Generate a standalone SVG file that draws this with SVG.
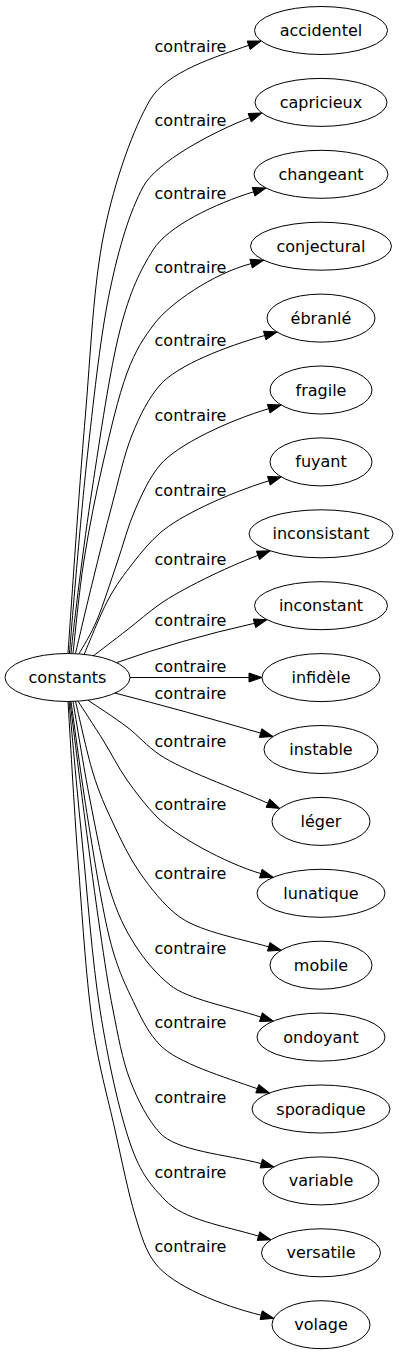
<svg xmlns="http://www.w3.org/2000/svg" width="403" height="1355" viewBox="0 0 403 1355">
<style>
.n ellipse{fill:none;stroke:#000;stroke-width:1}
text{font-family:"DejaVu Sans",Verdana,sans-serif;font-size:16px;fill:#000;text-anchor:middle}
.e path{fill:none;stroke:#000;stroke-width:1}
.e polygon{fill:#000;stroke:#000;stroke-width:1}
</style>
<rect width="403" height="1355" fill="#fff"/>
<g id="edges" class="e">
<path d="M68,653 C70.8,614.2 79,490 85,420 C91,350 93.2,286.3 104,233 C114.8,179.7 133.5,128.3 150,100 C166.5,71.7 215.7,56.9 248.7,45.3"/>
<polygon points="261,41 250.2,49.55 247.2,41.05"/>
<text x="190.5" y="52">contraire</text>
<path d="M69.5,653 C72.2,619.2 81.2,510.5 88,450 C94.8,389.5 100.8,333.8 110,290 C119.2,246.2 129.7,212 143,187 C156.3,162 212.4,132.2 249.7,117.7"/>
<polygon points="261.8,113 251.3,121.9 248.1,113.5"/>
<text x="190.5" y="125.5">contraire</text>
<path d="M71,653 C73.7,625.8 83.7,543.8 92,490 C100.3,436.2 109.8,370 120,330 C130.2,290 140.8,269.5 153,250 C168,226 215.4,203.6 253.6,191.8"/>
<polygon points="266,188 254.9,196.1 252.3,187.5"/>
<text x="190.5" y="199">contraire</text>
<path d="M73,653.2 C74.8,637.7 79,591.7 84,560 C89,528.3 95.8,494.2 103,463 C110.2,431.8 118.3,396.3 127,373 C135.7,349.7 144,337.3 155,323 C170,303.5 212.5,273.9 251.1,263.6"/>
<polygon points="263.7,260.2 252.3,268 249.9,259.3"/>
<text x="190.5" y="272.5">contraire</text>
<path d="M75.5,653.4 C78.4,641.2 86.9,604.7 93,580 C99.1,555.3 105.5,529.2 112,505 C118.5,480.8 124,455 132,435 C140,415 148.7,398 160,385 C177,365.4 226.2,346.3 264.7,335.5"/>
<polygon points="277.2,332 265.9,339.8 263.5,331.2"/>
<text x="190.5" y="346">contraire</text>
<path d="M79,653.8 C82,648.2 90.7,635.1 97,620 C103.3,604.9 110.7,581.3 117,563 C123.3,544.7 127.8,526.3 135,510 C142.2,493.7 149.2,478 160,465 C177,444.5 230.3,420 268.7,408.7"/>
<polygon points="281.2,405 270,413 267.4,404.4"/>
<text x="190.5" y="420.5">contraire</text>
<path d="M84,654.7 C88,645.6 99.8,615.3 108,600 C116.2,584.7 124.3,574.2 133,563 C141.7,551.8 150,541.7 160,533 C180,515.6 225.9,494.3 268.8,480.8"/>
<polygon points="281.2,476.9 270.2,485.1 267.5,476.5"/>
<text x="190.5" y="495.5">contraire</text>
<path d="M93,656.1 C98.7,651.8 115.8,638.7 127,630 C138.2,621.3 149,611.7 160,604 C180,590 225.2,567.7 258,555.4"/>
<polygon points="270.2,550.8 259.6,559.6 256.4,551.2"/>
<text x="190.5" y="565">contraire</text>
<path d="M117,662.5 Q180,640 254.5,623.3"/>
<polygon points="267,619.7 255.7,627.6 253.3,619"/>
<text x="190.5" y="626">contraire</text>
<path d="M130,677.5 L249,677.5"/>
<polygon points="262,677.5 249,682 249,673"/>
<text x="190.5" y="672">contraire</text>
<path d="M115,693.1 Q185,711 260.6,733.1"/>
<polygon points="273.1,736.5 259.4,737.4 261.8,728.8"/>
<text x="190.5" y="699">contraire</text>
<path d="M88,700.2 C94.5,704.7 115,717.9 127,727 C139,736.1 146.2,745.7 160,755 C182,769.8 233.1,787.9 267.9,803.2"/>
<polygon points="279.8,808.4 266.1,807.3 269.7,799.1"/>
<text x="190.5" y="747">contraire</text>
<path d="M78,701.2 C82.2,707.7 94.8,726.9 103,740 C111.2,753.1 118,767.2 127,780 C136,792.8 146,805.8 157,817 C175,835.3 224.4,862.8 260.8,873.6"/>
<polygon points="273.3,877.3 259.5,877.9 262.1,869.3"/>
<text x="190.5" y="810">contraire</text>
<path d="M75.5,701.3 C78.4,713.2 86.75,752.7 93,773 C99.25,793.3 105.2,806.3 113,823 C120.8,839.7 129.3,857.7 140,873 C150.7,888.3 163.7,904.5 177,915 C197,930.8 235,937.5 268.7,946.8"/>
<polygon points="281.2,950.2 267.5,951.1 269.9,942.5"/>
<text x="190.5" y="879">contraire</text>
<path d="M73,701.4 C75.8,717.8 83.8,768.6 90,800 C96.2,831.4 102.5,865.8 110,890 C117.5,914.2 125,929.2 135,945 C145,960.8 157.5,975 170,985 C188,999.4 227.65,1006.25 260.9,1017.1"/>
<polygon points="273.3,1021.1 259.5,1021.4 262.3,1012.8"/>
<text x="190.5" y="954">contraire</text>
<path d="M71,701.5 C73.8,721.3 81.5,780.25 88,820 C94.5,859.75 102.2,909.2 110,940 C117.8,970.8 126.7,987.5 135,1005 C143.3,1022.5 149.2,1033.7 160,1045 C177,1062.8 224.3,1077.1 257.3,1088.7"/>
<polygon points="269.6,1093 255.8,1092.9 258.8,1084.5"/>
<text x="190.5" y="1028">contraire</text>
<path d="M70,701.5 C72.5,721.3 80,781.9 85,820 C90,858.1 95.3,898.3 100,930 C104.7,961.7 108,985 113,1010 C118,1035 122.2,1059.5 130,1080 C137.8,1100.5 148.3,1120.5 160,1133 C177,1151.2 224.5,1154.1 261.3,1163.6"/>
<polygon points="273.9,1166.9 260.2,1168 262.4,1159.2"/>
<text x="190.5" y="1103">contraire</text>
<path d="M69,701.5 C71.2,724.6 76.8,788.6 82,840 C87.2,891.4 92,959.5 100,1010 C108,1060.5 119.2,1111.3 130,1143 C140.8,1174.7 151.7,1186 165,1200 C184,1220 222.1,1225.3 258.5,1236.1"/>
<polygon points="271,1239.8 257.2,1240.4 259.8,1231.8"/>
<text x="190.5" y="1178">contraire</text>
<path d="M68,701.5 C69.7,727.9 74,807 78,860 C82,913 85.8,975 92,1020 C98.2,1065 107.8,1097.5 115,1130 C122.2,1162.5 128.3,1192.8 135,1215 C141.7,1237.2 145.3,1250 155,1263 C172,1285.8 222.3,1305.8 261.2,1315.2"/>
<polygon points="273.8,1318.3 260.1,1319.6 262.3,1310.8"/>
<text x="190.5" y="1252">contraire</text>
</g>
<g id="constants" class="n"><ellipse cx="67.5" cy="677.5" rx="62.5" ry="24"/><text x="67.5" y="683">constants</text></g>
<g id="accidentel" class="n"><ellipse cx="321" cy="30.5" rx="66.5" ry="24"/><text x="321" y="36">accidentel</text></g>
<g id="capricieux" class="n"><ellipse cx="321" cy="102.4" rx="66" ry="24"/><text x="321" y="107.9">capricieux</text></g>
<g id="changeant" class="n"><ellipse cx="321" cy="174.3" rx="67" ry="24"/><text x="321" y="179.8">changeant</text></g>
<g id="conjectural" class="n"><ellipse cx="321" cy="246.2" rx="70.5" ry="24"/><text x="321" y="251.7">conjectural</text></g>
<g id="ebranle" class="n"><ellipse cx="321" cy="318.1" rx="54" ry="24"/><text x="321" y="323.6">ébranlé</text></g>
<g id="fragile" class="n"><ellipse cx="321" cy="390" rx="51" ry="24"/><text x="321" y="395.5">fragile</text></g>
<g id="fuyant" class="n"><ellipse cx="321" cy="461.9" rx="51" ry="24"/><text x="321" y="467.4">fuyant</text></g>
<g id="inconsistant" class="n"><ellipse cx="321" cy="533.8" rx="72" ry="24"/><text x="321" y="539.3">inconsistant</text></g>
<g id="inconstant" class="n"><ellipse cx="321" cy="605.7" rx="66.5" ry="24"/><text x="321" y="611.2">inconstant</text></g>
<g id="infidele" class="n"><ellipse cx="321" cy="677.6" rx="59" ry="24"/><text x="321" y="683.1">infidèle</text></g>
<g id="instable" class="n"><ellipse cx="321" cy="749.5" rx="57" ry="24"/><text x="321" y="755">instable</text></g>
<g id="leger" class="n"><ellipse cx="321" cy="821.4" rx="49" ry="24"/><text x="321" y="826.9">léger</text></g>
<g id="lunatique" class="n"><ellipse cx="321" cy="893.3" rx="64" ry="24"/><text x="321" y="898.8">lunatique</text></g>
<g id="mobile" class="n"><ellipse cx="321" cy="965.2" rx="51" ry="24"/><text x="321" y="970.7">mobile</text></g>
<g id="ondoyant" class="n"><ellipse cx="321" cy="1037.1" rx="64" ry="24"/><text x="321" y="1042.6">ondoyant</text></g>
<g id="sporadique" class="n"><ellipse cx="321" cy="1109" rx="69" ry="24"/><text x="321" y="1114.5">sporadique</text></g>
<g id="variable" class="n"><ellipse cx="321" cy="1180.9" rx="58" ry="24"/><text x="321" y="1186.4">variable</text></g>
<g id="versatile" class="n"><ellipse cx="321" cy="1252.8" rx="59.5" ry="24"/><text x="321" y="1258.3">versatile</text></g>
<g id="volage" class="n"><ellipse cx="321" cy="1324.7" rx="49" ry="24"/><text x="321" y="1330.2">volage</text></g>
</svg>
